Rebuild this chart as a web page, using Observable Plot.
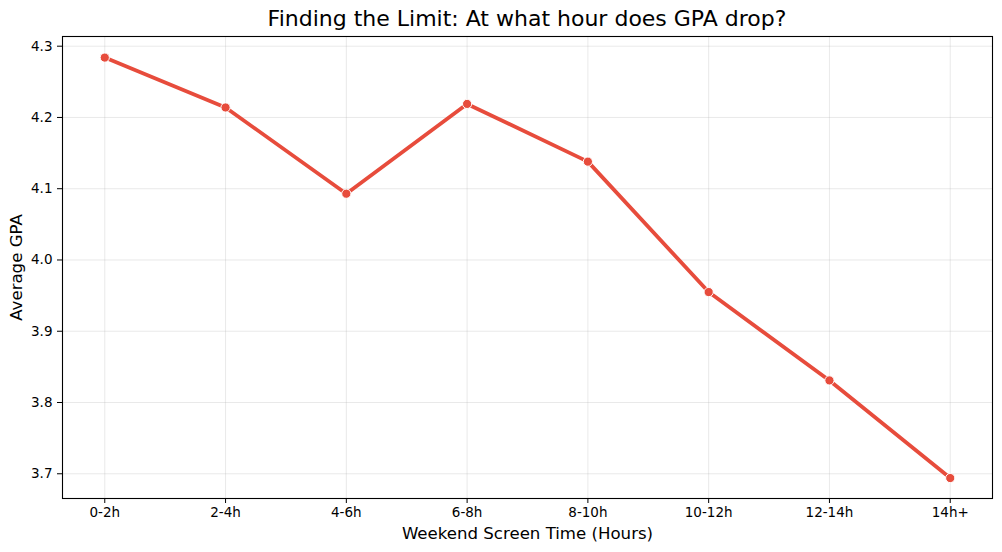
<!DOCTYPE html>
<html>
<head>
<meta charset="utf-8">
<script src="https://cdn.jsdelivr.net/npm/d3@7"></script>
<script src="https://cdn.jsdelivr.net/npm/@observablehq/plot@0.6"></script>
<style>
  body { margin: 0; background: #fff; font-family: "DejaVu Sans", sans-serif; }
  #wrap { width: 1002px; height: 552px; position: relative; }
  #title { position: absolute; left: 62px; width: 930px; top: 6px; text-align: center; font-size: 22px; color: #000; line-height: 26px; }
  #chart { position: absolute; left: 0; top: 30px; }
</style>
</head>
<body>
<div id="wrap">
  <div id="title">Finding the Limit: At what hour does GPA drop?</div>
  <div id="chart"></div>
</div>
<script>
const categories = ["0-2h", "2-4h", "4-6h", "6-8h", "8-10h", "10-12h", "12-14h", "14h+"];
const gpa = [4.284, 4.214, 4.093, 4.219, 4.138, 3.955, 3.831, 3.694];
const yTicks = [3.7, 3.8, 3.9, 4.0, 4.1, 4.2, 4.3];
const xLabel = "Weekend Screen Time (Hours)";
const yLabel = "Average GPA";

const data = categories.map((c, i) => ({cat: c, gpa: gpa[i]}));
const lineColor = "#e74c3c";

const plot = Plot.plot({
  width: 1002,
  height: 522,
  marginTop: 6,
  marginBottom: 54,
  marginLeft: 62,
  marginRight: 10,
  style: {fontFamily: "DejaVu Sans, sans-serif", fontSize: "13px", color: "#000", background: "#fff"},
  x: {type: "point", domain: categories, padding: 0.35, round: false},
  y: {domain: [3.6653, 4.3136], ticks: yTicks},
  marks: [
    Plot.gridX(categories, {stroke: "#b0b0b0", strokeOpacity: 0.35, strokeWidth: 0.8}),
    Plot.gridY(yTicks, {stroke: "#b0b0b0", strokeOpacity: 0.35, strokeWidth: 0.8}),
    Plot.axisX({tickSize: 5, tickPadding: 4, fontSize: 13.5, label: null, stroke: "#000"}),
    Plot.axisY({ticks: yTicks, tickSize: 5, tickPadding: 5, fontSize: 13.5, label: null, tickFormat: d3.format(".1f"), stroke: "#000"}),
    Plot.line(data, {x: "cat", y: "gpa", stroke: lineColor, strokeWidth: 3.8}),
    Plot.dot(data, {x: "cat", y: "gpa", fill: lineColor, stroke: "#fff", strokeWidth: 1, r: 4.6}),
    Plot.frame({stroke: "#000", strokeWidth: 1.1}),
    Plot.text([xLabel], {text: d => d, frameAnchor: "bottom", dy: 35, fontSize: 16.6, lineAnchor: "middle", fill: "#000"}),
    Plot.text([yLabel], {text: d => d, frameAnchor: "left", dx: -46, rotate: -90, fontSize: 16.6, textAnchor: "middle", lineAnchor: "middle", fill: "#000"})
  ]
});
document.getElementById("chart").appendChild(plot);
</script>
</body>
</html>
